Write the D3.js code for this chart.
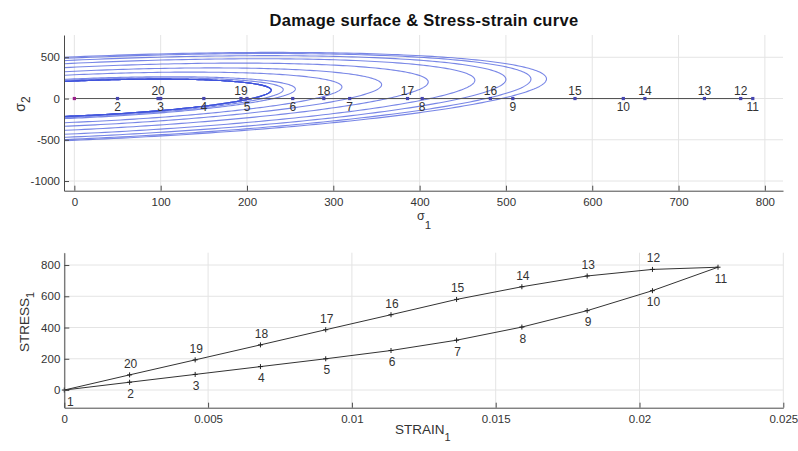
<!DOCTYPE html>
<html><head><meta charset="utf-8">
<script src="https://cdn.jsdelivr.net/npm/d3@7"></script>
<style>
body{margin:0;background:#fff}
text{font-family:"Liberation Sans",Arial,Helvetica,sans-serif}
</style>
</head><body><svg id="chart" width="798" height="451"></svg>
<script>
// Load path: point ids, stress (= sigma_1) and strain at each step
const pointIds = d3.range(1, 21);
const stress = [0, 50, 100, 150, 200, 253, 319, 403, 508, 636, 786, 772, 730, 661, 580, 482, 386, 289, 193, 97];
const strain = [0, 0.00227, 0.00455, 0.00682, 0.00909, 0.01136, 0.01364, 0.01591, 0.01818, 0.02045,
                0.02273, 0.02045, 0.01818, 0.01591, 0.01364, 0.01136, 0.00909, 0.00682, 0.00455, 0.00227];
const peakId = 11;

// Damage surfaces: sigma_2 intercept at sigma_1 = 0, the rightmost tip (sigma_1, sigma_2),
// and how many load steps share each surface
const surfIntercept = [212, 225, 238, 288, 331, 380, 428, 465, 492, 506];
const surfTipS1 = [228, 242, 256, 310, 356, 410, 464, 500, 529, 547];
const surfTipS2 = [102, 108, 115, 140, 168, 200, 222, 232, 236, 238];
const surfSteps = [5, 1, 1, 1, 1, 1, 1, 1, 1, 1];

// Tick values
const sigma1Ticks = [0, 100, 200, 300, 400, 500, 600, 700, 800];
const sigma2Ticks = [-1000, -500, 0, 500];
const strainTicks = [0, 0.005, 0.01, 0.015, 0.02, 0.025];
const stressTicks = [0, 200, 400, 600, 800];

const svg = d3.select("#chart");
const AXIS = "#4a4a4a", GRID = "#e4e4e4", TXT = "#333";

svg.append("text").attr("x", 424).attr("y", 26).attr("text-anchor", "middle")
  .attr("font-size", 16.5).attr("letter-spacing", 0.3).attr("font-weight", "bold").attr("fill", "#111")
  .text("Damage surface & Stress-strain curve");

function frame(g, x, y, xTicks, yTicks, box) {
  g.append("g").selectAll("line").data(xTicks).join("line")
    .attr("x1", d => x(d)).attr("x2", d => x(d)).attr("y1", box.top).attr("y2", box.bottom)
    .attr("stroke", GRID).attr("stroke-width", 1);
  g.append("g").selectAll("line").data(yTicks).join("line")
    .attr("y1", d => y(d)).attr("y2", d => y(d)).attr("x1", box.left).attr("x2", box.right)
    .attr("stroke", GRID).attr("stroke-width", 1);
}

function axes(g, x, y, xTicks, yTicks, box) {
  const xa = g.append("g").attr("transform", `translate(0,${box.bottom})`)
    .call(d3.axisBottom(x).tickValues(xTicks).tickSizeInner(-5).tickSizeOuter(0).tickPadding(7).tickFormat(d => String(d)));
  const ya = g.append("g").attr("transform", `translate(${box.left},0)`)
    .call(d3.axisLeft(y).tickValues(yTicks).tickSizeInner(-5).tickSizeOuter(0).tickPadding(4).tickFormat(d => String(d)));
  [xa, ya].forEach(a => {
    a.select(".domain").attr("stroke", AXIS);
    a.selectAll(".tick line").attr("stroke", AXIS);
    a.selectAll(".tick text").attr("fill", TXT).attr("font-size", 11.5)
      .attr("font-family", '"Liberation Sans",Arial,Helvetica,sans-serif');
  });
}

// ---------- Top: damage surfaces in principal stress space ----------
const boxA = {left: 64, right: 783, top: 35, bottom: 190.7};
const xA = d3.scaleLinear().domain([-12, 821]).range([boxA.left, boxA.right]);
const yA = d3.scaleLinear().domain([-1117, 770]).range([boxA.bottom, boxA.top]);
const gA = svg.append("g");
frame(gA, xA, yA, sigma1Ticks, sigma2Ticks, boxA);

svg.append("defs").append("clipPath").attr("id", "clipA").append("rect")
  .attr("x", boxA.left).attr("y", boxA.top)
  .attr("width", boxA.right - boxA.left).attr("height", boxA.bottom - boxA.top);

// each surface is the ellipse a*s1^2 - b*s1*s2 + c*s2^2 = 1
function surfacePoints(Y, s, t) {
  const c = 1 / (Y * Y), b = 2 * c * t / s, a = (1 + c * t * t) / (s * s);
  const A = a, B = -b / 2, C = c;
  const phi = 0.5 * Math.atan2(2 * B, A - C);
  const R = Math.sqrt(((A - C) / 2) ** 2 + B * B);
  const l1 = (A + C) / 2 + R, l2 = (A + C) / 2 - R;
  const r1 = 1 / Math.sqrt(l1), r2 = 1 / Math.sqrt(l2);
  const e1 = [Math.cos(phi), Math.sin(phi)], e2 = [-Math.sin(phi), Math.cos(phi)];
  return d3.range(0, 360).map(k => {
    const u = k / 360 * 2 * Math.PI;
    const p = r1 * Math.cos(u), q = r2 * Math.sin(u);
    return [p * e1[0] + q * e2[0], p * e1[1] + q * e2[1]];
  });
}
const surfaces = surfIntercept.flatMap((Y, i) =>
  d3.range(surfSteps[i]).map(() => surfacePoints(Y, surfTipS1[i], surfTipS2[i])));
const surfLine = d3.line().x(d => xA(d[0])).y(d => yA(d[1])).curve(d3.curveLinearClosed);
gA.append("g").attr("clip-path", "url(#clipA)").selectAll("path")
  .data(surfaces)
  .join("path").attr("d", surfLine).attr("fill", "none")
  .attr("stroke", "#3f52dc").attr("stroke-opacity", 0.7).attr("stroke-width", 1.1);

// load path along sigma_2 = 0
const pathA = pointIds.map((id, i) => ({id, s1: stress[i], s2: 0}));
gA.append("path").datum(pathA)
  .attr("d", d3.line().x(d => xA(d.s1)).y(d => yA(d.s2)))
  .attr("fill", "none").attr("stroke", "#555").attr("stroke-width", 1);
gA.append("g").selectAll("rect").data(pathA).join("rect")
  .attr("x", d => xA(d.s1) - 1.6).attr("y", d => yA(d.s2) - 1.6)
  .attr("width", 3.2).attr("height", 3.2)
  .attr("fill", d => d.id === 1 ? "#9a1f8a" : "#4646b0");
gA.append("g").selectAll("text").data(pathA.filter(d => d.id > 1)).join("text")
  .attr("x", d => xA(d.s1)).attr("y", d => yA(d.s2) + (d.id <= peakId ? 12 : -4))
  .attr("text-anchor", "middle").attr("font-size", 12).attr("fill", TXT)
  .text(d => d.id);

axes(gA, xA, yA, sigma1Ticks, sigma2Ticks, boxA);

const xlabA = svg.append("text").attr("x", 424).attr("y", 220).attr("text-anchor", "middle")
  .attr("fill", TXT).attr("font-size", 12.5);
xlabA.append("tspan").text("σ");
xlabA.append("tspan").attr("dy", 8.5).attr("font-size", 11.5).text("1");
const ylabA = svg.append("text").attr("transform", "translate(25,104) rotate(-90)")
  .attr("text-anchor", "middle").attr("fill", TXT).attr("font-size", 14);
ylabA.append("tspan").text("σ");
ylabA.append("tspan").attr("dy", 5).attr("font-size", 12).text("2");

// ---------- Bottom: stress-strain curve ----------
const boxB = {left: 64.3, right: 783.3, top: 252.7, bottom: 407.7};
const xB = d3.scaleLinear().domain([0, 0.025]).range([boxB.left, boxB.right]);
const yB = d3.scaleLinear().domain([-113, 879]).range([boxB.bottom, boxB.top]);
const gB = svg.append("g");
frame(gB, xB, yB, strainTicks, stressTicks, boxB);

const pathB = pointIds.map((id, i) => ({id, e: strain[i], s: stress[i]}));
gB.append("path").datum(pathB)
  .attr("d", d3.line().x(d => xB(d.e)).y(d => yB(d.s)).curve(d3.curveLinearClosed))
  .attr("fill", "none").attr("stroke", "#333").attr("stroke-width", 1);
const plus = gB.append("g").selectAll("g").data(pathB).join("g")
  .attr("transform", d => `translate(${xB(d.e)},${yB(d.s)})`);
plus.append("line").attr("x1", -2.5).attr("x2", 2.5).attr("stroke", "#222");
plus.append("line").attr("y1", -2.5).attr("y2", 2.5).attr("stroke", "#222");
gB.append("g").selectAll("text").data(pathB).join("text")
  .attr("x", d => Math.max(xB(d.e) + (d.id === peakId ? 3 : 1), boxB.left + 6))
  .attr("y", d => yB(d.s) + (d.id <= peakId ? 15.5 : -7))
  .attr("text-anchor", "middle").attr("font-size", 12).attr("fill", TXT)
  .text(d => d.id);

axes(gB, xB, yB, strainTicks, stressTicks, boxB);

const xlabB = svg.append("text").attr("x", 395).attr("y", 434)
  .attr("fill", TXT).attr("font-size", 13.5);
xlabB.append("tspan").text("STRAIN");
xlabB.append("tspan").attr("dy", 7).attr("font-size", 11).text("1");
const ylabB = svg.append("text").attr("transform", "translate(29,352) rotate(-90)")
  .attr("fill", TXT).attr("font-size", 13.5);
ylabB.append("tspan").text("STRESS");
ylabB.append("tspan").attr("dy", 5).attr("font-size", 11).text("1");
</script>
</body></html>
